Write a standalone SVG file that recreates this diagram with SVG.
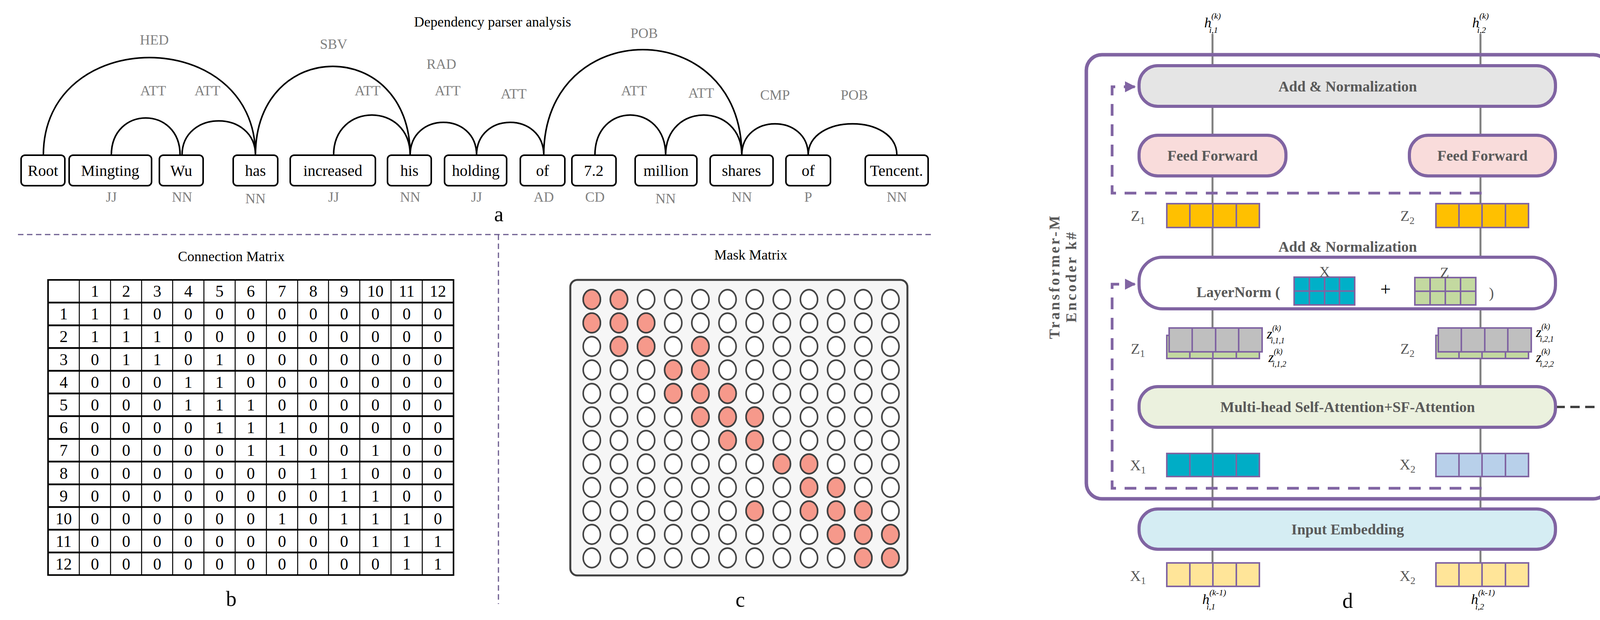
<svg xmlns="http://www.w3.org/2000/svg" xmlns:xlink="http://www.w3.org/1999/xlink" width="4433" height="1586" viewBox="0 0 4433 1586">
<style>
text{font-family:"Liberation Serif",serif}
.w{font-size:40px;text-anchor:middle;fill:#000}
.lb{font-size:36px;text-anchor:middle;fill:#808080}
.arc{fill:none;stroke:#000;stroke-width:4}
.box{fill:#fff;stroke:#000;stroke-width:4}
.cap{font-size:54px;text-anchor:middle;fill:#000}
.ttl{font-size:36px;text-anchor:middle;fill:#000}
.num{font-size:42px;text-anchor:middle;fill:#000}
.sep{stroke:#6b5b8e;stroke-width:3;stroke-dasharray:14 9;fill:none}
.pill{stroke:#8064a2;stroke-width:8}
.bt{font-size:38px;font-weight:bold;text-anchor:middle;fill:#595959}
.gl{stroke:#808080;stroke-width:5}
.dsh{fill:none;stroke:#8064a2;stroke-width:7;stroke-dasharray:30 22}
.cell{stroke:#8064a2;stroke-width:4}
.g{font-size:38px;fill:#595959}
.it{font-size:36px;font-style:italic;fill:#000}
.red{fill:#f6998b}
#reds ellipse{rx:22px;ry:25px}
</style>
<defs>
<pattern id="cp" x="1480.25" y="735.95" width="69.5" height="60.1" patternUnits="userSpaceOnUse"><ellipse cx="34.75" cy="30.05" rx="22" ry="25" fill="#fff" stroke="#404040" stroke-width="4"/></pattern>
<pattern id="cps" x="4168.4" y="946.7" width="19.27" height="16.55" patternUnits="userSpaceOnUse"><circle cx="9.63" cy="8.27" r="6.6" fill="#fff" stroke="#333" stroke-width="2.6"/></pattern>
<g id="reds">
<ellipse cx="0" cy="0"/><ellipse cx="69.5" cy="0"/>
<ellipse cx="0" cy="60.1"/><ellipse cx="69.5" cy="60.1"/><ellipse cx="139" cy="60.1"/>
<ellipse cx="69.5" cy="120.2"/><ellipse cx="139" cy="120.2"/><ellipse cx="278" cy="120.2"/>
<ellipse cx="208.5" cy="180.3"/><ellipse cx="278" cy="180.3"/>
<ellipse cx="208.5" cy="240.4"/><ellipse cx="278" cy="240.4"/><ellipse cx="347.5" cy="240.4"/>
<ellipse cx="278" cy="300.5"/><ellipse cx="347.5" cy="300.5"/><ellipse cx="417" cy="300.5"/>
<ellipse cx="347.5" cy="360.6"/><ellipse cx="417" cy="360.6"/>
<ellipse cx="486.5" cy="420.7"/><ellipse cx="556" cy="420.7"/>
<ellipse cx="556" cy="480.8"/><ellipse cx="625.5" cy="480.8"/>
<ellipse cx="417" cy="540.9"/><ellipse cx="556" cy="540.9"/><ellipse cx="625.5" cy="540.9"/><ellipse cx="695" cy="540.9"/>
<ellipse cx="625.5" cy="601"/><ellipse cx="695" cy="601"/><ellipse cx="764.5" cy="601"/>
<ellipse cx="695" cy="661.1"/><ellipse cx="764.5" cy="661.1"/>
</g>
<marker id="ah" viewBox="0 0 10 10" refX="9" refY="5" markerWidth="4" markerHeight="4" orient="auto" markerUnits="strokeWidth"><path d="M0,0 L10,5 L0,10 z" fill="#8064a2"/></marker>
</defs>

<!-- Panel a -->
<g id="panel-a">
<text class="ttl" x="1261" y="68">Dependency parser analysis</text>
<g id="connectors-a">
<path class="arc" d="M111,397 C111,64 654,64 654,397"/>
<path class="arc" d="M285,397 C285,270 461,270 461,397"/>
<path class="arc" d="M466,397 C466,280 654,280 654,397"/>
<path class="arc" d="M654,397 C654,94 1050,94 1050,397"/>
<path class="arc" d="M854,397 C854,260 1050,260 1050,397"/>
<path class="arc" d="M1050,397 C1050,285 1220,285 1220,397"/>
<path class="arc" d="M1220,397 C1220,285 1392,285 1392,397"/>
<path class="arc" d="M1392,397 C1392,37 1899,37 1899,397"/>
<path class="arc" d="M1523,397 C1523,260 1704,260 1704,397"/>
<path class="arc" d="M1704,397 C1704,260 1899,260 1899,397"/>
<path class="arc" d="M1899,397 C1899,290 2069,290 2069,397"/>
<path class="arc" d="M2069,397 C2069,290 2296,290 2296,397"/>
</g>
<g class="lb">
<text x="395" y="114">HED</text><text x="392" y="244">ATT</text><text x="531" y="244">ATT</text>
<text x="854" y="125">SBV</text><text x="1130" y="176">RAD</text><text x="941" y="244">ATT</text>
<text x="1146" y="244">ATT</text><text x="1315" y="252">ATT</text><text x="1649" y="97">POB</text>
<text x="1623" y="244">ATT</text><text x="1795" y="250">ATT</text><text x="1984" y="255">CMP</text><text x="2187" y="255">POB</text>
</g>
<g id="w-root"><rect class="box" x="54" y="397" width="112" height="78" rx="10"/><text class="w" x="110" y="450">Root</text></g>
<g id="w-mingting"><rect class="box" x="177" y="397" width="211" height="78" rx="10"/><text class="w" x="282" y="450">Mingting</text></g>
<g id="w-wu"><rect class="box" x="408" y="397" width="112" height="78" rx="10"/><text class="w" x="464" y="450">Wu</text></g>
<g id="w-has"><rect class="box" x="597" y="397" width="114" height="78" rx="10"/><text class="w" x="654" y="450">has</text></g>
<g id="w-increased"><rect class="box" x="743" y="397" width="218" height="78" rx="10"/><text class="w" x="852" y="450">increased</text></g>
<g id="w-his"><rect class="box" x="992" y="397" width="112" height="78" rx="10"/><text class="w" x="1048" y="450">his</text></g>
<g id="w-holding"><rect class="box" x="1138" y="397" width="159" height="78" rx="10"/><text class="w" x="1218" y="450">holding</text></g>
<g id="w-of1"><rect class="box" x="1332" y="397" width="114" height="78" rx="10"/><text class="w" x="1389" y="450">of</text></g>
<g id="w-72"><rect class="box" x="1464" y="397" width="113" height="78" rx="10"/><text class="w" x="1520" y="450">7.2</text></g>
<g id="w-million"><rect class="box" x="1626" y="397" width="158" height="78" rx="10"/><text class="w" x="1705" y="450">million</text></g>
<g id="w-shares"><rect class="box" x="1818" y="397" width="161" height="78" rx="10"/><text class="w" x="1898" y="450">shares</text></g>
<g id="w-of2"><rect class="box" x="2012" y="397" width="114" height="78" rx="10"/><text class="w" x="2069" y="450">of</text></g>
<g id="w-tencent"><rect class="box" x="2215" y="397" width="161" height="78" rx="10"/><text class="w" x="2295" y="450">Tencent.</text></g>
<g class="lb">
<text x="285" y="516">JJ</text><text x="466" y="516">NN</text><text x="654" y="520">NN</text><text x="854" y="516">JJ</text>
<text x="1050" y="516">NN</text><text x="1220" y="516">JJ</text><text x="1392" y="516">AD</text><text x="1523" y="516">CD</text>
<text x="1704" y="520">NN</text><text x="1899" y="516">NN</text><text x="2069" y="516">P</text><text x="2296" y="516">NN</text>
</g>
<text class="cap" x="1277" y="566">a</text>
</g>
<path class="sep" d="M46,600 H2389 M1276,600 V1545"/>

<!-- Panel b -->
<g id="panel-b">
<text class="ttl" x="592" y="668">Connection Matrix</text>
<rect x="123" y="716" width="1038" height="755" fill="#fff" stroke="#000" stroke-width="4"/>
<path stroke="#000" stroke-width="2.5" d="M203,716V1471M283,716V1471M362.5,716V1471M442,716V1471M522,716V1471M602,716V1471M682,716V1471M762,716V1471M841,716V1471M921,716V1471M1001,716V1471M1081,716V1471"/>
<path stroke="#000" stroke-width="4.5" d="M123,774.1H1161M123,832.2H1161M123,890.3H1161M123,948.4H1161M123,1006.5H1161M123,1064.6H1161M123,1122.7H1161M123,1180.8H1161M123,1238.9H1161M123,1297H1161M123,1355.1H1161M123,1413.2H1161"/>
<g class="num">
<text x="243 323 402.5 482 562 642 722 802 881" y="759">123456789</text>
<text x="961" y="759">10</text><text x="1041" y="759">11</text><text x="1121" y="759">12</text>
<text x="163" y="817">1</text><text x="163" y="875">2</text><text x="163" y="934">3</text><text x="163" y="992">4</text><text x="163" y="1050">5</text><text x="163" y="1108">6</text><text x="163" y="1166">7</text><text x="163" y="1225">8</text><text x="163" y="1283">9</text><text x="163" y="1341">10</text><text x="163" y="1399">11</text><text x="163" y="1457">12</text>
<text x="243 323 402.5 482 562 642 722 802 881 961 1041 1121" y="817">110000000000</text>
<text x="243 323 402.5 482 562 642 722 802 881 961 1041 1121" y="875">111000000000</text>
<text x="243 323 402.5 482 562 642 722 802 881 961 1041 1121" y="934">011010000000</text>
<text x="243 323 402.5 482 562 642 722 802 881 961 1041 1121" y="992">000110000000</text>
<text x="243 323 402.5 482 562 642 722 802 881 961 1041 1121" y="1050">000111000000</text>
<text x="243 323 402.5 482 562 642 722 802 881 961 1041 1121" y="1108">000011100000</text>
<text x="243 323 402.5 482 562 642 722 802 881 961 1041 1121" y="1166">000001100100</text>
<text x="243 323 402.5 482 562 642 722 802 881 961 1041 1121" y="1225">000000011000</text>
<text x="243 323 402.5 482 562 642 722 802 881 961 1041 1121" y="1283">000000001100</text>
<text x="243 323 402.5 482 562 642 722 802 881 961 1041 1121" y="1341">000000101110</text>
<text x="243 323 402.5 482 562 642 722 802 881 961 1041 1121" y="1399">000000000111</text>
<text x="243 323 402.5 482 562 642 722 802 881 961 1041 1121" y="1457">000000000011</text>
</g>
<text class="cap" x="592" y="1550">b</text>
</g>

<!-- Panel c -->
<g id="panel-c">
<text class="ttl" x="1922" y="664">Mask Matrix</text>
<rect x="1460" y="716" width="863" height="756" rx="18" fill="#f6f6f6" stroke="#404040" stroke-width="5"/>
<rect x="1480.25" y="735.95" width="834" height="721.2" fill="url(#cp)"/>
<use href="#reds" xlink:href="#reds" transform="translate(1515,766)" class="red" stroke="#404040" stroke-width="4"/>
<text class="cap" x="1895" y="1552">c</text>
</g>

<!-- Panel d -->
<g id="panel-d">
<g id="d-lines"><path class="gl" d="M3104,87V1440M3790,87V1440"/></g>
<g id="encoder"><rect x="2781" y="140" width="1338" height="1136" rx="40" fill="none" stroke="#8064a2" stroke-width="9"/>
<text transform="translate(2712,707) rotate(-90)" text-anchor="middle" font-weight="bold" font-size="38" letter-spacing="5" fill="#595959">Transformer-M</text>
<text transform="translate(2755,707) rotate(-90)" text-anchor="middle" font-weight="bold" font-size="38" letter-spacing="5" fill="#595959">Encoder k#</text></g>
<g id="connectors-d">
<path class="dsh" d="M3793,494 H2847 V222 H2905" marker-end="url(#ah)"/>
<path class="dsh" d="M3793,1249 H2847 V727 H2905" marker-end="url(#ah)"/>
<path d="M3982,1041 H4164" stroke="#404040" stroke-width="6" stroke-dasharray="24 14"/>
</g>
<g id="addnorm1"><rect class="pill" x="2916" y="168" width="1066" height="104" rx="48" fill="#e5e5e5"/><text class="bt" x="3450" y="234">Add &amp; Normalization</text></g>
<g id="ff1"><rect class="pill" x="2916" y="346" width="376" height="104" rx="48" fill="#f9dcdb"/><text class="bt" x="3104" y="411">Feed Forward</text></g>
<g id="ff2"><rect class="pill" x="3608" y="346" width="374" height="104" rx="48" fill="#f9dcdb"/><text class="bt" x="3795" y="411">Feed Forward</text></g>
<g id="z-yellow">
<rect class="cell" x="2987" y="521" width="237" height="61" fill="#ffc000"/><path class="cell" d="M3046,521V582M3105,521V582M3165,521V582"/>
<rect class="cell" x="3676" y="521" width="237" height="61" fill="#ffc000"/><path class="cell" d="M3735,521V582M3794,521V582M3854,521V582"/>
<text class="g" x="2895" y="565">Z<tspan font-size="26" dy="8">1</tspan></text>
<text class="g" x="3585" y="565">Z<tspan font-size="26" dy="8">2</tspan></text>
</g>
<text class="bt" x="3450" y="644">Add &amp; Normalization</text>
<g id="layernorm"><rect class="pill" x="2916" y="658" width="1066" height="132" rx="60" fill="#fff"/>
<text class="bt" x="3170" y="760" font-weight="normal">LayerNorm (</text>
<rect class="cell" x="3313" y="709" width="155" height="71" fill="#00b0c8"/><path class="cell" d="M3313,744.5H3468M3352,709V780M3391,709V780M3429,709V780"/>
<text class="g" x="3391" y="708" text-anchor="middle">X</text>
<text x="3547" y="756" font-size="48" text-anchor="middle" fill="#000">+</text>
<rect class="cell" x="3622" y="710" width="156" height="70" fill="#c3d9a0"/><path class="cell" d="M3622,745H3778M3661,710V780M3700,710V780M3739,710V780"/>
<text class="g" x="3698" y="710" text-anchor="middle">Z</text>
<text class="g" x="3818" y="762" text-anchor="middle">)</text></g>
<g id="z-stack">
<rect class="cell" x="2987" y="858" width="237" height="59" fill="#c3d9a0"/><path class="cell" d="M3046,858V917M3105,858V917M3165,858V917"/>
<rect class="cell" x="2993" y="839" width="238" height="61" fill="#bfbfbf"/><path class="cell" d="M3052,839V900M3112,839V900M3171,839V900"/>
<rect class="cell" x="3676" y="858" width="237" height="59" fill="#c3d9a0"/><path class="cell" d="M3735,858V917M3794,858V917M3854,858V917"/>
<rect class="cell" x="3682" y="839" width="238" height="61" fill="#bfbfbf"/><path class="cell" d="M3741,839V900M3801,839V900M3860,839V900"/>
<text class="g" x="2895" y="905">Z<tspan font-size="26" dy="8">1</tspan></text>
<text class="g" x="3585" y="905">Z<tspan font-size="26" dy="8">2</tspan></text>
<text class="it" x="3243" y="866">z<tspan font-size="20" dy="-20">(k)</tspan><tspan font-size="20" dx="-26" dy="32">i,1,1</tspan></text>
<text class="it" x="3247" y="926">z<tspan font-size="20" dy="-20">(k)</tspan><tspan font-size="20" dx="-26" dy="32">i,1,2</tspan></text>
<text class="it" x="3932" y="862">z<tspan font-size="20" dy="-20">(k)</tspan><tspan font-size="20" dx="-26" dy="32">i,2,1</tspan></text>
<text class="it" x="3932" y="926">z<tspan font-size="20" dy="-20">(k)</tspan><tspan font-size="20" dx="-26" dy="32">i,2,2</tspan></text>
</g>
<g id="mhsa"><rect class="pill" x="2916" y="989" width="1066" height="104" rx="48" fill="#ebf1de"/><text class="bt" x="3450" y="1054">Multi-head Self-Attention+SF-Attention</text></g>
<g id="mask-small">
<rect x="4164" y="941" width="237" height="210" rx="14" fill="#f6f6f6" stroke="#404040" stroke-width="5"/>
<rect x="4168.4" y="946.7" width="231.2" height="198.6" fill="url(#cps)"/>
<use href="#reds" xlink:href="#reds" transform="translate(4178,955) scale(0.2773,0.2754)" class="red" stroke="#333" stroke-width="9.5"/>
<text class="g" x="4287" y="1203" text-anchor="middle">Mask</text>
<text class="g" x="4287" y="1250" text-anchor="middle">Matrix</text>
</g>
<g id="x-mid">
<rect class="cell" x="2987" y="1160" width="237" height="59" fill="#00adc6"/><path class="cell" d="M3046,1160V1219M3105,1160V1219M3165,1160V1219"/>
<rect class="cell" x="3676" y="1160" width="237" height="59" fill="#b8d0ea"/><path class="cell" d="M3735,1160V1219M3794,1160V1219M3854,1160V1219"/>
<text class="g" x="2893" y="1203">X<tspan font-size="26" dy="8">1</tspan></text>
<text class="g" x="3583" y="1201">X<tspan font-size="26" dy="8">2</tspan></text>
</g>
<g id="embed"><rect class="pill" x="2916" y="1302" width="1066" height="103" rx="48" fill="#d5edf3"/><text class="bt" x="3450" y="1367">Input Embedding</text></g>
<g id="x-bottom">
<rect class="cell" x="2987" y="1440" width="237" height="60" fill="#ffe599"/><path class="cell" d="M3046,1440V1500M3105,1440V1500M3165,1440V1500"/>
<rect class="cell" x="3676" y="1440" width="237" height="60" fill="#ffe599"/><path class="cell" d="M3735,1440V1500M3794,1440V1500M3854,1440V1500"/>
<text class="g" x="2893" y="1486">X<tspan font-size="26" dy="8">1</tspan></text>
<text class="g" x="3583" y="1486">X<tspan font-size="26" dy="8">2</tspan></text>
</g>
<g id="h-labels">
<text class="it" x="3083" y="70">h<tspan font-size="22" dy="-22">(k)</tspan><tspan font-size="22" dx="-30" dy="36">i,1</tspan></text>
<text class="it" x="3769" y="70">h<tspan font-size="22" dy="-22">(k)</tspan><tspan font-size="22" dx="-30" dy="36">i,2</tspan></text>
<text class="it" x="3078" y="1545">h<tspan font-size="22" dy="-22">(k-1)</tspan><tspan font-size="22" dx="-50" dy="36">i,1</tspan></text>
<text class="it" x="3766" y="1545">h<tspan font-size="22" dy="-22">(k-1)</tspan><tspan font-size="22" dx="-50" dy="36">i,2</tspan></text>
</g>
<text class="cap" x="3450" y="1555" fill="#595959">d</text>
</g>
</svg>
